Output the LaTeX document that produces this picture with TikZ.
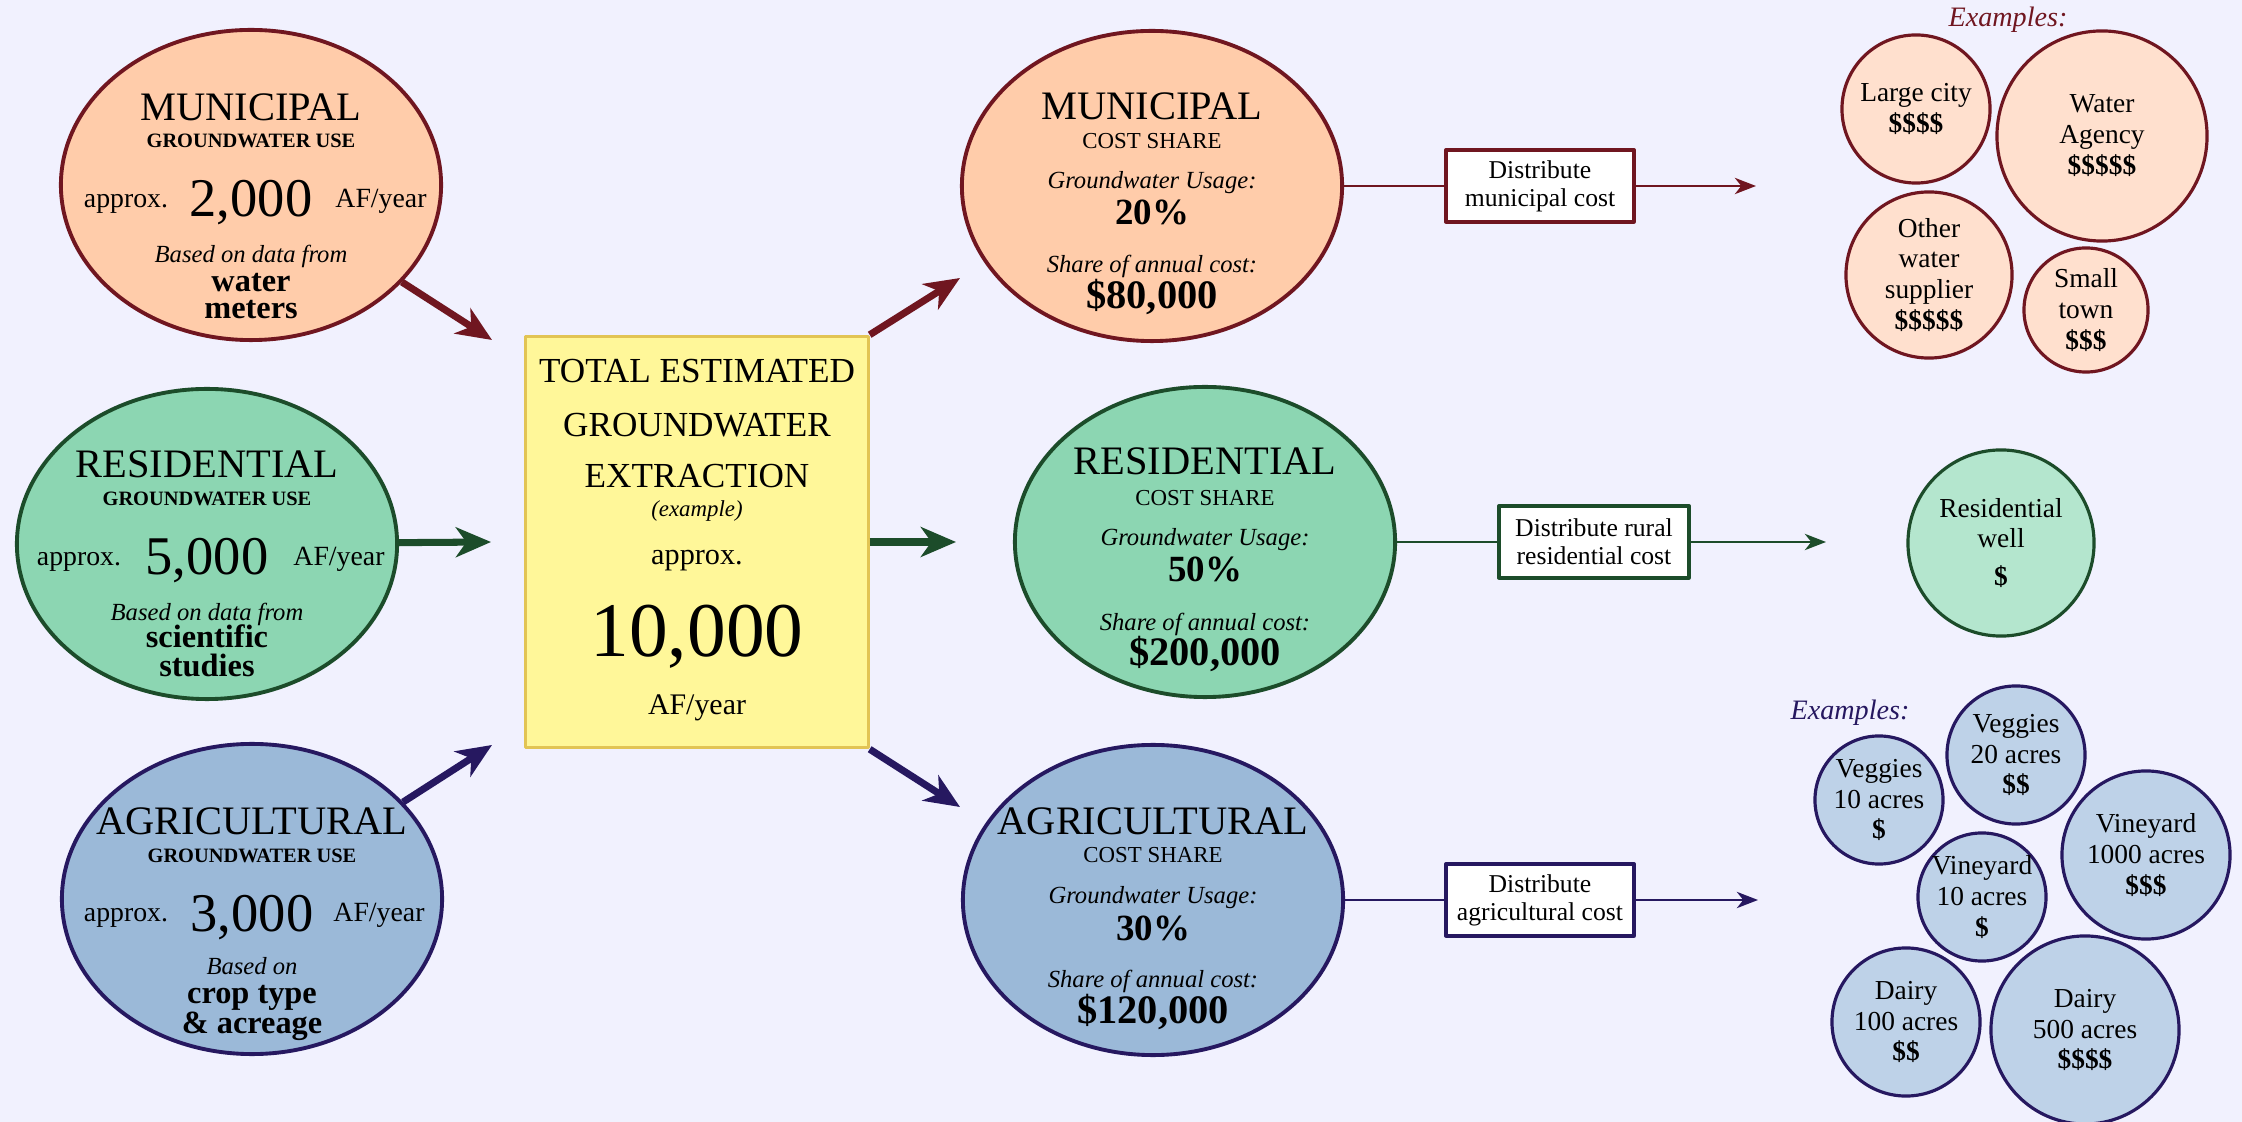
\documentclass[tikz,border=0pt]{standalone}
\usepackage{fontspec}
\setmainfont{Liberation Serif}
\usetikzlibrary{shapes.geometric,arrows.meta}
\definecolor{bgcol}{RGB}{241,241,254}
\definecolor{muFill}{RGB}{255,204,170}
\definecolor{muLine}{RGB}{112,22,32}
\definecolor{muPale}{RGB}{255,224,206}
\definecolor{reFill}{RGB}{140,214,178}
\definecolor{reLine}{RGB}{28,76,42}
\definecolor{rePale}{RGB}{180,230,206}
\definecolor{agFill}{RGB}{155,185,216}
\definecolor{agLine}{RGB}{38,24,96}
\definecolor{agPale}{RGB}{190,210,232}
\definecolor{totFill}{RGB}{255,247,153}
\definecolor{totLine}{RGB}{226,196,84}
\begin{document}
\begin{tikzpicture}[x=0.01cm,y=-0.01cm,line join=round,
    blob/.style={ellipse,inner sep=0pt,line width=1.1pt,minimum width=3.8cm,minimum height=3.1cm},
    totbox/.style={rectangle,inner sep=0pt,fill=totFill,draw=totLine,line width=0.9pt,minimum width=3.42cm,minimum height=4.11cm},
    distbox/.style={rectangle,inner sep=0pt,fill=white,line width=0.9pt,minimum width=1.88cm,minimum height=0.72cm,align=center,font=\fontsize{7.3}{8}\selectfont},
    excirc/.style={circle,inner sep=-6pt,line width=0.9pt,align=center,font=\fontsize{7.8}{8.8}\selectfont},
    exhead/.style={inner sep=0pt,font=\itshape\fontsize{8}{9}\selectfont},
    txt/.style={anchor=base,inner sep=0pt},
    bigname/.style={txt,font=\fontsize{11.5}{12}\selectfont},
    subname/.style={txt,font=\bfseries\fontsize{5.8}{6}\selectfont},
    costname/.style={txt,font=\fontsize{6.5}{7}\selectfont},
    smalltxt/.style={txt,font=\fontsize{7.9}{8}\selectfont},
    amount/.style={txt,font=\fontsize{15.5}{16}\selectfont},
    note/.style={txt,font=\itshape\fontsize{7}{8}\selectfont},
    basis/.style={txt,font=\bfseries\fontsize{9.2}{10}\selectfont},
    share/.style={txt,font=\bfseries\fontsize{10.5}{11}\selectfont},
    money/.style={txt,font=\bfseries\fontsize{11.5}{12}\selectfont},
    tottxt/.style={txt,font=\fontsize{10}{11}\selectfont},
    bigarrow/.style={line width=2pt,-{Stealth[length=10pt,width=8.5pt,inset=3pt]}},
    thinarrow/.style={line width=0.8pt,-{Stealth[length=6pt,width=4.6pt,inset=1.8pt]}}]
    \fill[bgcol] (0,0) rectangle (2242,1122);
    \clip (0,0) rectangle (2242,1122);

    % groundwater use
    \node[blob,fill=muFill,draw=muLine] (mu) at (251,185) {};
    \begin{scope}[shift={(mu.center)}]
        \node[bigname] (muHead) at (0,-64) {MUNICIPAL};
        \node[subname] (muSub) at (0,-37) {GROUNDWATER USE};
        \node[smalltxt] (muApprox) at (-125,23) {approx.};
        \node[amount] (muNum) at (0,32) {2,000};
        \node[smalltxt] (muUnit) at (130,23) {AF/year};
        \node[note] (muNote) at (0,78) {Based on data from};
        \node[basis] (muBasisA) at (0,107) {water};
        \node[basis] (muBasisB) at (0,134) {meters};
    \end{scope}

    \node[blob,fill=reFill,draw=reLine] (re) at (207,544) {};
    \begin{scope}[shift={(re.center)}]
        \node[bigname] (reHead) at (0,-66) {RESIDENTIAL};
        \node[subname] (reSub) at (0,-38) {GROUNDWATER USE};
        \node[smalltxt] (reApprox) at (-128,22) {approx.};
        \node[amount] (reNum) at (0,31) {5,000};
        \node[smalltxt] (reUnit) at (132,22) {AF/year};
        \node[note] (reNote) at (0,77) {Based on data from};
        \node[basis] (reBasisA) at (0,104) {scientific};
        \node[basis] (reBasisB) at (0,133) {studies};
    \end{scope}

    \node[blob,fill=agFill,draw=agLine] (ag) at (252,899) {};
    \begin{scope}[shift={(ag.center)}]
        \node[bigname] (agHead) at (0,-64) {AGRICULTURAL};
        \node[subname] (agSub) at (0,-36) {GROUNDWATER USE};
        \node[smalltxt] (agApprox) at (-126,23) {approx.};
        \node[amount] (agNum) at (0,33) {3,000};
        \node[smalltxt] (agUnit) at (127,23) {AF/year};
        \node[note] (agNote) at (0,76) {Based on};
        \node[basis] (agBasisA) at (0,104) {crop type};
        \node[basis] (agBasisB) at (0,134) {\& acreage};
    \end{scope}

    % total
    \node[totbox] (tot) at (697,542) {};
    \node[tottxt] (totA) at (697,383) {TOTAL ESTIMATED};
    \node[tottxt] (totB) at (697,437) {GROUNDWATER};
    \node[tottxt] (totC) at (697,488) {EXTRACTION};
    \node[txt,font=\itshape\fontsize{6.5}{7}\selectfont] (totEx) at (697,517) {(example)};
    \node[txt,font=\fontsize{8.6}{9}\selectfont] (totApprox) at (697,565) {approx.};
    \node[txt,font=\fontsize{22}{24}\selectfont] (totNum) at (697,657) {10,000};
    \node[txt,font=\fontsize{8.5}{9}\selectfont] (totUnit) at (697,715) {AF/year};

    \coordinate (muTip) at (492,340);
    \coordinate (reTip) at (491,542);
    \coordinate (agTip) at (492,745);
    \draw[bigarrow,muLine] (mu) -- (muTip);
    \draw[bigarrow,reLine] (re) -- (reTip);
    \draw[bigarrow,agLine] (ag) -- (agTip);

    \coordinate (mcTip) at (960,278);
    \coordinate (rcTip) at (956,542);
    \coordinate (acTip) at (960,807);
    \draw[bigarrow,muLine] (tot.north east) -- (mcTip);
    \draw[bigarrow,reLine] (tot.east) -- (rcTip);
    \draw[bigarrow,agLine] (tot.south east) -- (acTip);

    % cost share
    \node[blob,fill=muFill,draw=muLine] (mc) at (1152,186) {};
    \begin{scope}[shift={(mc.center)}]
        \node[bigname] (mcHead) at (0,-66) {MUNICIPAL};
        \node[costname] (mcSub) at (0,-37) {COST SHARE};
        \node[note] (mcUse) at (0,3) {Groundwater Usage:};
        \node[share] (mcPct) at (0,39) {20\%};
        \node[note] (mcCost) at (0,87) {Share of annual cost:};
        \node[money] (mcMoney) at (0,123) {\$80,000};
    \end{scope}

    \node[blob,fill=reFill,draw=reLine] (rc) at (1205,542) {};
    \begin{scope}[shift={(rc.center)}]
        \node[bigname] (rcHead) at (0,-67) {RESIDENTIAL};
        \node[costname] (rcSub) at (0,-36) {COST SHARE};
        \node[note] (rcUse) at (0,4) {Groundwater Usage:};
        \node[share] (rcPct) at (0,40) {50\%};
        \node[note] (rcCost) at (0,89) {Share of annual cost:};
        \node[money] (rcMoney) at (0,124) {\$200,000};
    \end{scope}

    \node[blob,fill=agFill,draw=agLine] (ac) at (1153,900) {};
    \begin{scope}[shift={(ac.center)}]
        \node[bigname] (acHead) at (0,-65) {AGRICULTURAL};
        \node[costname] (acSub) at (0,-37) {COST SHARE};
        \node[note] (acUse) at (0,3) {Groundwater Usage:};
        \node[share] (acPct) at (0,40) {30\%};
        \node[note] (acCost) at (0,88) {Share of annual cost:};
        \node[money] (acMoney) at (0,123) {\$120,000};
    \end{scope}

    % distribution
    \node[distbox,draw=muLine] (dm) at (1540,186) {Distribute\\municipal cost};
    \node[distbox,draw=reLine,minimum width=1.9cm] (dr) at (1594,542) {Distribute rural\\residential cost};
    \node[distbox,draw=agLine] (da) at (1540,900) {Distribute\\agricultural cost};
    \coordinate (dmEnd) at (1756,186);
    \coordinate (drEnd) at (1826,542);
    \coordinate (daEnd) at (1758,900);
    \draw[muLine,line width=0.8pt] (mc) -- (dm);
    \draw[thinarrow,muLine] (dm) -- (dmEnd);
    \draw[reLine,line width=0.8pt] (rc) -- (dr);
    \draw[thinarrow,reLine] (dr) -- (drEnd);
    \draw[agLine,line width=0.8pt] (ac) -- (da);
    \draw[thinarrow,agLine] (da) -- (daEnd);

    % examples
    \node[exhead,text=muLine] (muEx) at (2008,20) {Examples:};
    \node[excirc,fill=muPale,draw=muLine,minimum size=1.48cm] (bigcity) at (1916,109) {Large city\\\textbf{\$\$\$\$}};
    \node[excirc,fill=muPale,draw=muLine,minimum size=2.1cm] (agency) at (2102,136) {Water\\Agency\\\textbf{\$\$\$\$\$}};
    \node[excirc,fill=muPale,draw=muLine,minimum size=1.66cm] (supplier) at (1929,275) {Other\\water\\supplier\\\textbf{\$\$\$\$\$}};
    \node[excirc,fill=muPale,draw=muLine,minimum size=1.24cm] (town) at (2086,310) {Small\\town\\\textbf{\$\$\$}};

    \node[excirc,fill=rePale,draw=reLine,minimum size=1.86cm] (well) at (2001,543) {Residential\\well\\[2pt]\textbf{\$}};

    \node[exhead,text=agLine] (agEx) at (1850,713) {Examples:};
    \node[excirc,fill=agPale,draw=agLine,minimum size=1.28cm] (veg10) at (1879,800) {Veggies\\10 acres\\\textbf{\$}};
    \node[excirc,fill=agPale,draw=agLine,minimum size=1.38cm] (veg20) at (2016,755) {Veggies\\20 acres\\\textbf{\$\$}};
    \node[excirc,fill=agPale,draw=agLine,minimum size=1.68cm] (vine1000) at (2146,855) {Vineyard\\1000 acres\\\textbf{\$\$\$}};
    \node[excirc,fill=agPale,draw=agLine,minimum size=1.28cm] (vine10) at (1982,897) {Vineyard\\10 acres\\\textbf{\$}};
    \node[excirc,fill=agPale,draw=agLine,minimum size=1.48cm] (dairy100) at (1906,1022) {Dairy\\100 acres\\\textbf{\$\$}};
    \node[excirc,fill=agPale,draw=agLine,minimum size=1.88cm] (dairy500) at (2085,1030) {Dairy\\500 acres\\\textbf{\$\$\$\$}};
\end{tikzpicture}
\end{document}
